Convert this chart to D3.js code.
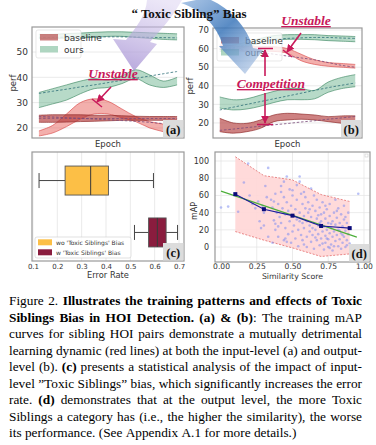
<!DOCTYPE html>
<html><head><meta charset="utf-8">
<script src="https://cdn.jsdelivr.net/npm/d3@7/dist/d3.min.js"></script>
<style>html,body{margin:0;padding:0;background:#fff;}svg{display:block;}</style>
</head><body>
<svg id="fig" width="376" height="445"></svg>
<script>
// ---------------- DATA ----------------
const epochs = [0,1,2,3,4,5,6,7,8,9,10];

// panel (a)
const aTicks = [20,30,40,50];
const aOursTopHi = [57, 57, 57.3, 57.5, 57.8, 58, 58, 57.8, 57.6, 57.4, 57.2];
const aOursTopLo = [55.3, 55.4, 55.5, 55.6, 55.8, 56.2, 56.2, 55.8, 55.4, 55, 54.8];
const aOursTopDash = [55.8, 55.8, 55.9, 55.9, 56, 56, 56, 55.9, 55.8, 55.7, 55.6];
const aOursMidHi = [34, 35.5, 37, 38.5, 39.5, 39, 40.5, 43, 41, 38.5, 40];
const aOursMidLo = [28, 29.5, 31, 33.5, 35.5, 36, 37.5, 39.5, 37, 36, 37];
const aOursMidDash = [33.6, 34.5, 35.3, 36.2, 37, 37.9, 38.8, 39.6, 40.5, 41.4, 42.3];
const aBaseHi = [25, 25.2, 25.2, 25.2, 25, 25, 24.8, 24.6, 24.5, 24.5, 24.5];
const aBaseLo = [22.2, 22.2, 22.3, 22.5, 22.6, 22.8, 23, 23, 23, 23, 23];
const aBaseDashA = [23.8, 23.8, 23.8, 23.7, 23.7, 23.7, 23.7, 23.7, 23.7, 23.7, 23.7];
const aBaseDashB = [24.5, 24.3, 24, 23.8, 23.5, 23.2, 22.9, 22.6, 22.2, 21.7, 21.2];
const aUnstHi = [18.8, 21, 25.5, 30, 31.5, 30.5, 27.5, 24.5, 22.5, 21.5, 20.8];
const aUnstLo = [16.8, 18, 20.5, 23.5, 25.5, 25.5, 24, 22.5, 20, 18.5, 16.8];

// panel (b)
const bTicks = [20,30,40,50,60,70];
const bOursTopHi = [61, 62, 63.5, 65.5, 67, 67.5, 67.5, 67.5, 67, 66.8, 66.5];
const bOursTopLo = [58.5, 59.5, 61, 63, 64.5, 65, 65, 64.8, 64.3, 64, 63.7];
const bOursTopDash = [59.5, 60.5, 62, 63.5, 65, 65.5, 65.8, 66, 66, 65.7, 65.5];
const bBaseTopHi = [62, 61.5, 61, 61, 61, 60, 57, 54, 52.5, 52, 51.5];
const bBaseTopLo = [59.5, 59, 58.5, 58.5, 58.5, 57.5, 53.5, 51.5, 50.5, 50, 49.5];
const bBaseTopDash = [61, 60, 59, 58, 57, 56, 55, 54, 52.5, 51, 50];
const bOursMidHi = [34, 32.5, 33, 35, 37, 38.5, 38.5, 37.5, 42, 44.5, 46];
const bOursMidLo = [28, 27, 27.5, 29, 31, 32.5, 32.5, 33, 36.5, 38.5, 39.5];
const bOursMidDash = [27, 28.5, 30, 31.5, 33, 34.5, 36, 37.5, 39, 40.3, 41.5];
const bBaseBotHi = [22.5, 20, 19.8, 21.6, 24.3, 25.2, 24.8, 24.3, 23.4, 23.8, 23.8];
const bBaseBotLo = [15.3, 14.5, 15.3, 17.1, 20.7, 21.6, 22, 21.6, 20.7, 19.8, 18.4];
const bBaseBotDash = [16, 16.7, 17.5, 18.2, 19, 19.7, 20.5, 21.2, 22, 22.7, 23.5];

// panel (c)
const boxCats = ["wo 'Toxic Siblings' Bias", "w 'Toxic Siblings' Bias"];
const boxMin = [0.125, 0.517];
const boxQ1  = [0.232, 0.575];
const boxMed = [0.337, 0.611];
const boxQ3  = [0.41, 0.647];
const boxMax = [0.595, 0.694];
const boxColors = ["#fcbf46", "#8a1c3e"];
const cTicks = [0.1,0.2,0.3,0.4,0.5,0.6,0.7];

// panel (d)
const dXTicks = [0, 0.25, 0.5, 0.75, 1.0];
const dYTicks = [0, 20, 40, 60, 80, 100];
const bandX = [0.1, 0.3, 0.5, 0.7, 0.9];
const bandUpper = [105, 83, 78, 61, 53];
const bandLower = [18, 8, -1, -11, -8];
const meanY = [61.5, 44, 36.5, 24.5, 22];
const regX = [0, 0.95];
const regY = [65, 11.5];
const scatterPts = [
 [0.0,46],[0.05,47],[0.12,41],[0.16,75],[0.19,97],[0.2,60],[0.22,50],[0.24,45],[0.26,53],[0.27,30],
 [0.28,22],[0.3,25],[0.29,48],[0.31,71],[0.33,92],[0.32,58],[0.3,40],[0.33,12],[0.36,5],[0.38,27],
 [0.35,55],[0.36,46],[0.37,31],[0.38,62],[0.38,20],[0.39,40],[0.4,50],[0.4,12],[0.41,35],[0.42,64],
 [0.42,28],[0.43,45],[0.44,8],[0.44,58],[0.45,38],[0.45,22],[0.46,82],[0.46,52],[0.47,15],[0.47,42],
 [0.48,67],[0.48,30],[0.49,5],[0.49,48],[0.5,60],[0.5,18],[0.5,36],[0.51,25],[0.45,10],[0.46,6],
 [0.52,44],[0.52,10],[0.53,55],[0.53,32],[0.54,1],[0.54,20],[0.55,82],[0.55,76],[0.55,40],[0.56,62],
 [0.56,14],[0.57,28],[0.57,50],[0.58,3],[0.58,36],[0.58,22],[0.59,45],[0.59,58],[0.6,12],[0.6,30],
 [0.6,0],[0.61,40],[0.61,52],[0.62,18],[0.62,25],[0.63,68],[0.63,6],[0.63,35],[0.64,48],[0.64,14],
 [0.65,28],[0.65,60],[0.65,-2],[0.42,71],[0.5,66],[0.44,76],[0.53,72],[0.37,53],[0.58,64],[0.4,24],
 [0.66,20],[0.66,42],[0.67,8],[0.67,33],[0.67,55],[0.68,15],[0.68,25],[0.69,2],[0.69,46],[0.7,38],
 [0.7,10],[0.7,30],[0.71,18],[0.71,52],[0.72,-3],[0.72,24],[0.72,40],[0.73,5],[0.73,13],[0.73,33],
 [0.74,20],[0.74,44],[0.75,0],[0.75,28],[0.75,9],[0.76,16],[0.76,36],[0.76,50],[0.77,3],[0.77,22],
 [0.78,12],[0.78,30],[0.78,-4],[0.79,18],[0.79,40],[0.8,7],[0.8,26],[0.8,55],[0.81,14],[0.81,34],
 [0.82,1],[0.82,20],[0.82,45],[0.83,9],[0.83,28],[0.84,16],[0.84,-2],[0.84,38],[0.85,5],[0.85,24],
 [0.86,12],[0.86,32],[0.86,48],[0.87,0],[0.87,19],[0.88,8],[0.88,28],[0.89,15],[0.89,40],[0.9,4],
 [0.9,22],[0.96,62],[0.64,22],[0.68,37],[0.71,4],[0.74,10],[0.77,27],[0.79,1],[0.83,19],[0.87,35],
 [0.55,30],[0.57,8],[0.62,44],[0.66,11],[0.69,28],[0.73,48],[0.76,-1],[0.81,42],[0.85,14],[0.88,2]
];

// text
const titleText = "\u201c Toxic Sibling\u201d Bias";
const captionLines = [
 "Figure 2. **Illustrates the training patterns and effects of Toxic**",
 "**Siblings Bias in HOI Detection. (a) & (b)**: The training mAP",
 "curves for sibling HOI pairs demonstrate a mutually detrimental",
 "learning dynamic (red lines) at both the input-level (a) and output-",
 "level (b). **(c)** presents a statistical analysis of the impact of input-",
 "level \u201dToxic Siblings\u201d bias, which significantly increases the error",
 "rate. **(d)** demonstrates that at the output level, the more Toxic",
 "Siblings a category has (i.e., the higher the similarity), the worse",
 "its performance. (See Appendix A.1 for more details.)"
];

// ---------------- STYLE ----------------
const SANS = "'DejaVu Sans', Verdana, sans-serif";
const SERIF = "'Liberation Serif','Times New Roman',serif";
const ANN = "#c8195a";
const GREEN_F = "#5fae84", GREEN_E = "#3b8660", GREEN_D = "#2f6f78";
const BASE_F = "#b03636", BASE_E = "#8a2222", PURP_D = "#7a4a7a";
const UNST_F = "#e8605a", UNST_E = "#d84848";

const svg = d3.select("#fig");
const defs = svg.append("defs");

function arrowMarker(id, color){
  defs.append("marker").attr("id",id).attr("viewBox","0 0 10 10").attr("refX",9).attr("refY",5)
    .attr("markerWidth",5).attr("markerHeight",5).attr("orient","auto-start-reverse")
    .append("path").attr("d","M0,0 L10,5 L0,10 z").attr("fill",color);
}
arrowMarker("ah", ANN);

// ---------------- BAND PANELS (a),(b) ----------------
function bandPanel(cfg){
  const g = svg.append("g");
  const x = d3.scaleLinear().domain([-0.5,10.5]).range([cfg.x0,cfg.x1]);
  const y = d3.scaleLinear().domain(cfg.yDom).range([cfg.y1,cfg.y0]);
  const cid = "clip"+cfg.name;
  defs.append("clipPath").attr("id",cid).append("rect")
    .attr("x",cfg.x0).attr("y",cfg.y0).attr("width",cfg.x1-cfg.x0).attr("height",cfg.y1-cfg.y0);
  g.selectAll(".gl").data(cfg.yTicks).join("line")
    .attr("x1",cfg.x0).attr("x2",cfg.x1).attr("y1",d=>y(d)).attr("y2",d=>y(d))
    .attr("stroke","#e4e4e4").attr("stroke-width",0.8);
  const ax = g.append("g").attr("transform",`translate(${cfg.x0},0)`)
    .call(d3.axisLeft(y).tickValues(cfg.yTicks).tickSize(0).tickPadding(cfg.pad));
  ax.select(".domain").remove();
  ax.selectAll("text").attr("font-family",SANS).attr("font-size",cfg.tickFs).attr("fill","#333");
  const inner = g.append("g").attr("clip-path",`url(#${cid})`);
  const area = d3.area().x((d,i)=>x(epochs[i])).y0(d=>y(d[0])).y1(d=>y(d[1])).curve(d3.curveCatmullRom);
  const line = d3.line().x((d,i)=>x(epochs[i])).y(d=>y(d)).curve(d3.curveCatmullRom);
  cfg.bands.forEach(b=>{
    inner.append("path").attr("d",area(b.lo.map((v,i)=>[v,b.hi[i]])))
      .attr("fill",b.fill).attr("fill-opacity",b.op);
    [b.lo,b.hi].forEach(arr=>inner.append("path").attr("d",line(arr)).attr("fill","none")
      .attr("stroke",b.edge).attr("stroke-width",0.7).attr("stroke-opacity",0.9));
  });
  cfg.dashes.forEach(dd=>{
    inner.append("path").attr("d",line(dd.v)).attr("fill","none").attr("stroke",dd.c)
      .attr("stroke-width",0.8).attr("stroke-dasharray","2.5,1.8");
  });
  // legend
  const L = cfg.legend;
  g.append("rect").attr("x",L.x).attr("y",L.y).attr("width",L.w).attr("height",L.h).attr("rx",2)
    .attr("fill","#fff").attr("fill-opacity",0.8).attr("stroke","#d8d8d8").attr("stroke-width",0.6);
  [["baseline",BASE_F,0.62],["ours",GREEN_F,0.5]].forEach((it,i)=>{
    const yy = L.y + 4 + i*12;
    g.append("rect").attr("x",L.x+4).attr("y",yy).attr("width",18).attr("height",6.5)
      .attr("fill",it[1]).attr("fill-opacity",it[2]);
    g.append("text").attr("x",L.x+28).attr("y",yy+6.5).attr("font-family",SANS)
      .attr("font-size",9).attr("fill","#333").text(it[0]);
  });
  // frame
  g.append("rect").attr("x",cfg.x0).attr("y",cfg.y0).attr("width",cfg.x1-cfg.x0).attr("height",cfg.y1-cfg.y0)
    .attr("fill","none").attr("stroke","#999").attr("stroke-width",1.2);
  // axis titles
  g.append("text").attr("x",(cfg.x0+cfg.x1)/2).attr("y",146.5).attr("text-anchor","middle")
    .attr("font-family",SANS).attr("font-size",8.5).attr("fill","#333").text("Epoch");
  g.append("text").attr("transform",`translate(${cfg.perfX},${cfg.perfY}) rotate(-90)`).attr("text-anchor","middle")
    .attr("font-family",SANS).attr("font-size",8.5).attr("fill","#333").text("perf");
  panelLabel(cfg.x1, cfg.y1, cfg.name);
  return {x,y,g};
}

function panelLabel(xr, yb, name){
  svg.append("rect").attr("x",xr-21).attr("y",yb-18).attr("width",20.4).attr("height",17.4).attr("fill","#dcdcdc");
  svg.append("text").attr("x",xr-10.8).attr("y",yb-4.5).attr("text-anchor","middle")
    .attr("font-family",SERIF).attr("font-weight","bold").attr("font-size",12.5).attr("fill","#111").text(`(${name})`);
}

const pa = bandPanel({name:"a", x0:32, x1:184, y0:27, y1:138, yDom:[16,59.9], yTicks:aTicks, tickFs:9, pad:4,
  perfX:16, perfY:83,
  bands:[
    {lo:aOursTopLo, hi:aOursTopHi, fill:GREEN_F, op:0.45, edge:GREEN_E},
    {lo:aOursMidLo, hi:aOursMidHi, fill:GREEN_F, op:0.45, edge:GREEN_E},
    {lo:aUnstLo, hi:aUnstHi, fill:UNST_F, op:0.5, edge:UNST_E},
    {lo:aBaseLo, hi:aBaseHi, fill:BASE_F, op:0.65, edge:BASE_E}
  ],
  dashes:[{v:aOursTopDash,c:GREEN_D},{v:aOursMidDash,c:GREEN_D},{v:aBaseDashA,c:PURP_D},{v:aBaseDashB,c:PURP_D}],
  legend:{x:36,y:30,w:45,h:28}
});

const pb = bandPanel({name:"b", x0:213, x1:362, y0:28, y1:138, yDom:[11.9,71.1], yTicks:bTicks, tickFs:8.5, pad:4,
  perfX:193, perfY:86,
  bands:[
    {lo:bOursTopLo, hi:bOursTopHi, fill:GREEN_F, op:0.45, edge:GREEN_E},
    {lo:bBaseTopLo, hi:bBaseTopHi, fill:UNST_F, op:0.5, edge:UNST_E},
    {lo:bOursMidLo, hi:bOursMidHi, fill:GREEN_F, op:0.45, edge:GREEN_E},
    {lo:bBaseBotLo, hi:bBaseBotHi, fill:BASE_F, op:0.62, edge:BASE_E}
  ],
  dashes:[{v:bOursTopDash,c:GREEN_D},{v:bBaseTopDash,c:PURP_D},{v:bOursMidDash,c:GREEN_D},{v:bBaseBotDash,c:PURP_D}],
  legend:{x:217,y:33,w:65,h:28}
});

// ---------------- PANEL (c) ----------------
(function(){
  const x0=32,x1=184,y0=152,y1=261;
  const g = svg.append("g");
  const x = d3.scaleLinear().domain([0.096,0.7205]).range([x0,x1]);
  const y = d3.scalePoint().domain(boxCats).range([y0,y1]).padding(0.55);
  g.selectAll(".vg").data(cTicks).join("line").attr("x1",d=>x(d)).attr("x2",d=>x(d)).attr("y1",y0).attr("y2",y1)
    .attr("stroke","#e4e4e4").attr("stroke-width",0.8);
  const ax = g.append("g").attr("transform",`translate(0,${y1})`)
    .call(d3.axisBottom(x).tickValues(cTicks).tickSize(0).tickPadding(3).tickFormat(d3.format(".1f")));
  ax.select(".domain").remove();
  ax.selectAll("text").attr("font-family",SANS).attr("font-size",7).attr("fill","#333");
  const bh = 29;
  boxCats.forEach((c,i)=>{
    const cy = y(c);
    g.append("line").attr("x1",x(boxMin[i])).attr("x2",x(boxQ1[i])).attr("y1",cy).attr("y2",cy).attr("stroke","#444").attr("stroke-width",1);
    g.append("line").attr("x1",x(boxQ3[i])).attr("x2",x(boxMax[i])).attr("y1",cy).attr("y2",cy).attr("stroke","#444").attr("stroke-width",1);
    [boxMin[i],boxMax[i]].forEach(v=>g.append("line").attr("x1",x(v)).attr("x2",x(v)).attr("y1",cy-7.5).attr("y2",cy+7.5).attr("stroke","#444").attr("stroke-width",1));
    g.append("rect").attr("x",x(boxQ1[i])).attr("y",cy-bh/2).attr("width",x(boxQ3[i])-x(boxQ1[i])).attr("height",bh)
      .attr("fill",boxColors[i]).attr("stroke","#555").attr("stroke-width",0.9);
    g.append("line").attr("x1",x(boxMed[i])).attr("x2",x(boxMed[i])).attr("y1",cy-bh/2).attr("y2",cy+bh/2).attr("stroke","#3a3a3a").attr("stroke-width",1);
  });
  // legend
  g.append("rect").attr("x",35).attr("y",237).attr("width",96).attr("height",21).attr("rx",2)
    .attr("fill","#fff").attr("fill-opacity",0.85).attr("stroke","#ccc").attr("stroke-width",0.6);
  boxCats.forEach((c,i)=>{
    g.append("rect").attr("x",38).attr("y",239.3+i*10).attr("width",14).attr("height",6).attr("fill",boxColors[i]);
    g.append("text").attr("x",56).attr("y",245+i*10).attr("font-family",SANS).attr("font-size",6).attr("fill","#333").text(c);
  });
  g.append("rect").attr("x",x0).attr("y",y0).attr("width",x1-x0).attr("height",y1-y0).attr("fill","none").attr("stroke","#999").attr("stroke-width",1.2);
  g.append("text").attr("x",(x0+x1)/2).attr("y",278).attr("text-anchor","middle").attr("font-family",SANS).attr("font-size",8.3).attr("fill","#333").text("Error Rate");
  panelLabel(x1,y1,"c");
})();

// ---------------- PANEL (d) ----------------
(function(){
  const x0=215,x1=370,y0=152,y1=262;
  const g = svg.append("g");
  const x = d3.scaleLinear().domain([-0.042,1.042]).range([x0,x1]);
  const y = d3.scaleLinear().domain([-17.4,110.5]).range([y1,y0]);
  g.selectAll(".vg").data(dXTicks).join("line").attr("x1",d=>x(d)).attr("x2",d=>x(d)).attr("y1",y0).attr("y2",y1).attr("stroke","#e2e2e2").attr("stroke-width",0.7);
  g.selectAll(".hg").data(dYTicks).join("line").attr("y1",d=>y(d)).attr("y2",d=>y(d)).attr("x1",x0).attr("x2",x1).attr("stroke","#e2e2e2").attr("stroke-width",0.7);
  const ax = g.append("g").attr("transform",`translate(0,${y1})`)
    .call(d3.axisBottom(x).tickValues(dXTicks).tickSize(0).tickPadding(2).tickFormat(d3.format(".2f")));
  ax.select(".domain").remove();
  ax.selectAll("text").attr("font-family",SANS).attr("font-size",7.6).attr("fill","#333");
  const ay = g.append("g").attr("transform",`translate(${x0},0)`)
    .call(d3.axisLeft(y).tickValues(dYTicks).tickSize(0).tickPadding(6));
  ay.select(".domain").remove();
  ay.selectAll("text").attr("font-family",SANS).attr("font-size",8).attr("fill","#333");
  const bandData = bandX.map((v,i)=>[v,bandLower[i],bandUpper[i]]);
  g.append("path").attr("d",d3.area().x(d=>x(d[0])).y0(d=>y(d[1])).y1(d=>y(d[2]))(bandData)).attr("fill","#ffd6d6").attr("fill-opacity",0.9);
  [1,2].forEach(k=>g.append("path").attr("d",d3.line().x(d=>x(d[0])).y(d=>y(d[k]))(bandData))
    .attr("fill","none").attr("stroke","#e05a5a").attr("stroke-width",0.7).attr("stroke-dasharray","2,1.5"));
  g.selectAll(".pt").data(scatterPts).join("circle").attr("cx",d=>x(d[0])).attr("cy",d=>y(d[1])).attr("r",1.3)
    .attr("fill","#7f8ef0").attr("fill-opacity",0.55);
  g.append("path").attr("d",d3.line().x(d=>x(d[0])).y(d=>y(d[1]))(regX.map((v,i)=>[v,regY[i]])))
    .attr("fill","none").attr("stroke","#4daf3a").attr("stroke-width",1.1);
  const md = bandX.map((v,i)=>[v,meanY[i]]);
  g.append("path").attr("d",d3.line().x(d=>x(d[0])).y(d=>y(d[1]))(md)).attr("fill","none").attr("stroke","#1c1c9a").attr("stroke-width",1.1);
  g.selectAll(".mk").data(md).join("rect").attr("x",d=>x(d[0])-2).attr("y",d=>y(d[1])-2).attr("width",4).attr("height",4).attr("fill","#0b0b7a");
  g.append("rect").attr("x",x1-5).attr("y",y0+2).attr("width",3).attr("height",3).attr("fill","none").attr("stroke","#ccc").attr("stroke-width",0.6);
  g.append("rect").attr("x",x0).attr("y",y0).attr("width",x1-x0).attr("height",y1-y0).attr("fill","none").attr("stroke","#999").attr("stroke-width",1.2);
  g.append("text").attr("x",(x0+x1)/2).attr("y",278.5).attr("text-anchor","middle").attr("font-family",SANS).attr("font-size",7.8).attr("fill","#333").text("Similarity Score");
  g.append("text").attr("transform","translate(196.5,211) rotate(-90)").attr("text-anchor","middle").attr("font-family",SANS).attr("font-size",8).attr("fill","#333").text("mAP");
  panelLabel(x1,y1,"d");
})();

// ---------------- DECORATIVE ARROWS ----------------
const gp = defs.append("linearGradient").attr("id","gpur").attr("gradientUnits","userSpaceOnUse")
  .attr("x1",160).attr("y1",0).attr("x2",135).attr("y2",72);
gp.append("stop").attr("offset",0).attr("stop-color","#d9cff0").attr("stop-opacity",0.5);
gp.append("stop").attr("offset",1).attr("stop-color","#a28dd2").attr("stop-opacity",0.75);
svg.append("path").attr("d","M147,0 C146,15 136,28 126,40 L113,39 L134,71 L157,44 L150,42 C161,30 174,15 182,0 Z")
  .attr("fill","url(#gpur)");
const gbl = defs.append("linearGradient").attr("id","gblue").attr("gradientUnits","userSpaceOnUse")
  .attr("x1",185).attr("y1",0).attr("x2",245).attr("y2",73);
gbl.append("stop").attr("offset",0).attr("stop-color","#6d9bd3").attr("stop-opacity",0.6);
gbl.append("stop").attr("offset",0.5).attr("stop-color","#3c77ba").attr("stop-opacity",0.85);
gbl.append("stop").attr("offset",1).attr("stop-color","#9db9df").attr("stop-opacity",0.65);
svg.append("path").attr("d","M181,3 C200,9 217,25 223,46 L219,46 L245,74 L263,50 L253,48 C247,25 226,5 206,-2 Z")
  .attr("fill","url(#gblue)");

// ---------------- TITLE ----------------
svg.append("text").attr("x",189).attr("y",18).attr("text-anchor","middle").attr("font-family",SERIF)
  .attr("font-weight","bold").attr("font-size",13).attr("fill","#111").text(titleText);

// ---------------- ANNOTATIONS ----------------
function annText(t,x,y,fs){
  svg.append("text").attr("x",x).attr("y",y).attr("text-anchor","middle").attr("font-family",SERIF)
    .attr("font-style","italic").attr("font-weight","bold").attr("font-size",fs).attr("fill",ANN)
    .attr("text-decoration","underline").text(t);
}
function annArrow(x1,y1,x2,y2){
  svg.append("line").attr("x1",x1).attr("y1",y1).attr("x2",x2).attr("y2",y2).attr("stroke",ANN)
    .attr("stroke-width",1.6).attr("marker-end","url(#ah)");
}
function annBar(x1,y1,x2,y2){
  svg.append("line").attr("x1",x1).attr("y1",y1).attr("x2",x2).attr("y2",y2).attr("stroke",ANN).attr("stroke-width",1.5);
}
annText("Unstable",113,78,13.5);
annArrow(111,87,97,102);
annBar(92,99,102,107);
annText("Unstable",306,25,13.5);
annArrow(301,33,287,52);
annBar(283,50,292,57);
annText("Competition",271,88,13.5);
annArrow(265,76,265,50);
annArrow(265,93,265,123);
annBar(258,48.5,273,48.5);
annBar(257,124.5,273,124.5);

// ---------------- CAPTION ----------------
(function(){
  const left=9, right=362, base0=305, step=16.5;
  const g = svg.append("g").attr("font-family",SERIF).attr("fill","#000");
  function parse(line){
    let bold=false; const words=[];
    line.split(" ").forEach(w=>{
      if(w==="") return;
      const segs = w.split("**"); const runs=[];
      segs.forEach((s,k)=>{ if(k>0) bold=!bold; if(s!=="") runs.push([s,bold]); });
      words.push(runs);
    });
    return words;
  }
  const probe = g.append("text").attr("font-size",12).text(captionLines[8]);
  const w9 = probe.node().getComputedTextLength(); probe.remove();
  const fs = 12*286/w9;
  captionLines.forEach((ln,li)=>{
    const words = parse(ln);
    const nodes = words.map(wd=>{
      const t = g.append("text").attr("font-size",fs).attr("y",base0+li*step);
      wd.forEach(([s,b])=>t.append("tspan").attr("font-weight",b?"bold":"normal").text(s));
      return t;
    });
    const widths = nodes.map(n=>n.node().getComputedTextLength());
    const total = d3.sum(widths);
    const last = li===captionLines.length-1;
    const gap = last ? fs*0.25 : (right-left-total)/(words.length-1);
    let xx=left;
    nodes.forEach((n,i)=>{ n.attr("x",xx); xx+=widths[i]+gap; });
  });
})();
</script>
</body></html>
